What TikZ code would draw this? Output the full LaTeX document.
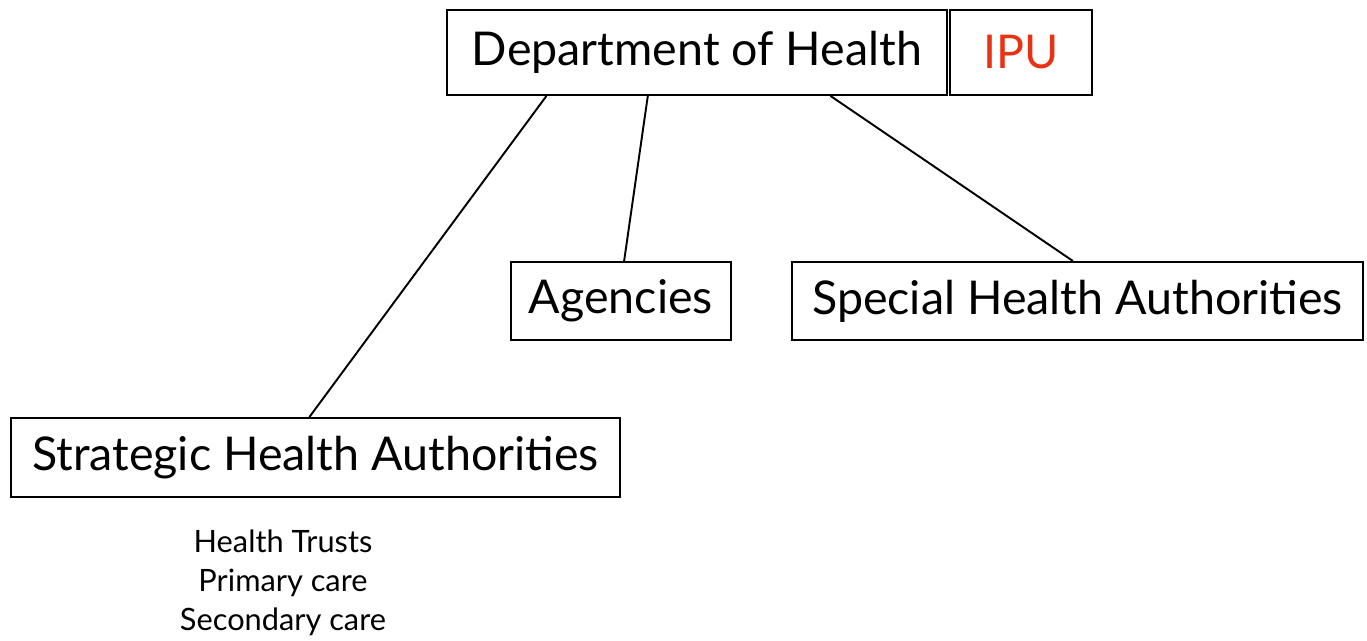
\documentclass[tikz,border=0pt]{standalone}
\usepackage{fontspec}
\setmainfont{Lato}
\usetikzlibrary{calc}
\definecolor{ipured}{RGB}{232,50,20}

\begin{document}
\begin{tikzpicture}
     [
     every node/.style={font=\fontsize{26.5}{32}\selectfont},
     orgbox/.style={draw, line width=1.1pt, inner sep=0pt, minimum height=1.7cm},
     link/.style={line width=1.1pt}
     ]
     \useasboundingbox (0,0) rectangle (27.34,12.82);
     % top level
     \node[orgbox, minimum width=10cm] (doh) at (13.94,11.77) {Department of Health};
     \node[orgbox, minimum width=2.84cm, text=ipured] (ipu) at (20.42,11.77) {IPU};
     % second level
     \node[orgbox, minimum width=4.4cm, minimum height=1.56cm] (agencies) at (12.42,6.8) {Agencies};
     \node[orgbox, minimum width=11.42cm, minimum height=1.56cm] (special) at (21.55,6.8) {Special Health Authorities};
     \node[orgbox, minimum width=12.18cm, minimum height=1.58cm] (strategic) at (6.31,3.67) {Strategic Health Authorities};
     \node[align=center, font=\fontsize{17.5}{22.2}\selectfont] (trusts) at (5.66,1.16) {Health Trusts\\Primary care\\Secondary care};
     % connectors
     \draw[link] ($(doh.south west)!0.2!(doh.south east)$) -- ($(strategic.north west)!0.49!(strategic.north east)$);
     \draw[link] ($(doh.south west)!0.402!(doh.south east)$) -- ($(agencies.north west)!0.514!(agencies.north east)$);
     \draw[link] ($(doh.south west)!0.766!(doh.south east)$) -- ($(special.north west)!0.492!(special.north east)$);
\end{tikzpicture}
\end{document}
